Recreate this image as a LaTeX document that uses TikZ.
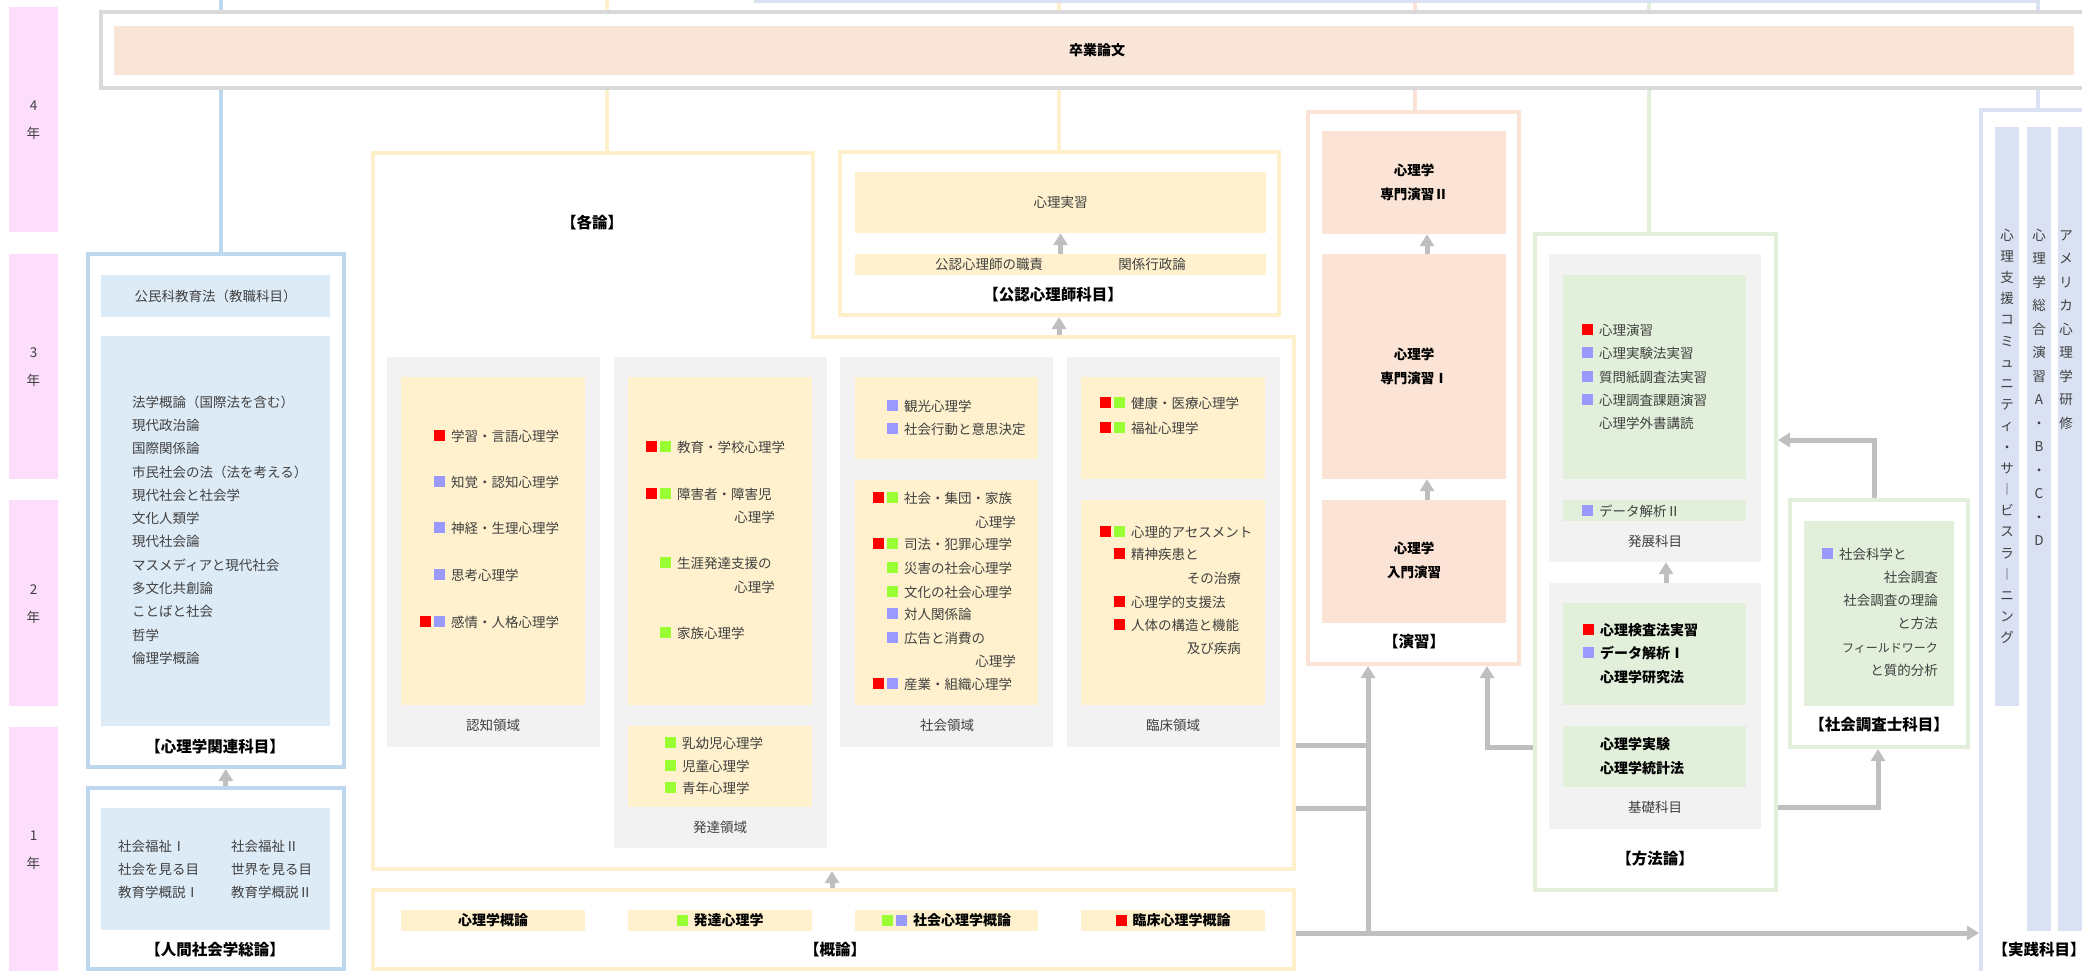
\documentclass[tikz,border=0pt]{standalone}
\usepackage{fontspec}
\setmainfont{Noto Sans CJK JP}
\usepackage{xcolor}
\usetikzlibrary{fit,arrows.meta}

\definecolor{ypink}{RGB}{252,222,252}
\definecolor{tgray}{RGB}{217,217,217}
\definecolor{sfill}{RGB}{249,228,216}
\definecolor{bline}{RGB}{189,215,238}
\definecolor{bfill}{RGB}{221,235,247}
\definecolor{yline}{RGB}{255,240,204}
\definecolor{yfill}{RGB}{255,241,205}
\definecolor{pgray}{RGB}{242,242,242}
\definecolor{pline}{RGB}{251,226,214}
\definecolor{pfill}{RGB}{251,228,214}
\definecolor{gline}{RGB}{226,239,218}
\definecolor{gfill}{RGB}{226,239,218}
\definecolor{lline}{RGB}{217,225,242}
\definecolor{lfill}{RGB}{217,225,242}
\definecolor{agray}{RGB}{191,191,191}
\definecolor{txt}{RGB}{64,64,64}
\definecolor{mred}{RGB}{255,0,0}
\definecolor{mgrn}{RGB}{153,255,51}
\definecolor{mblu}{RGB}{153,153,255}

\newcommand{\fs}{\fontsize{13.5}{16}\selectfont}
\newcommand{\fh}{\fontsize{14}{17}\selectfont\bfseries}
\newcommand{\fk}{\fontsize{15.5}{18}\selectfont\bfseries}
\newcommand{\mk}[1]{\textcolor{#1}{\rule[-0.3pt]{11pt}{11pt}}\hspace{3pt}}
\newcommand{\mR}{\mk{mred}}
\newcommand{\mG}{\mk{mgrn}}
\newcommand{\mB}{\mk{mblu}}

\begin{document}
\begin{tikzpicture}[x=1pt,y=-1pt,
  every node/.style={inner sep=0pt},
  box/.style={draw=#1,line width=4pt,fill=white},
  lbl/.style={text=txt,font=\fs,text height=11.9pt,text depth=1.6pt},
  item/.style={lbl,anchor=west},
  itemr/.style={lbl,anchor=east},
  head/.style={lbl,text=black,font=\fh},
  ttl/.style={text=black,font=\fk,text height=13.6pt,text depth=1.9pt},
  two/.style={text=black,font=\fontsize{13.5}{24}\selectfont\bfseries,align=center},
  vl/.style={draw=#1,line width=4pt},
  arr/.style={draw=agray,line width=5pt,-{Triangle[length=12pt,width=14pt]}},
  link/.style={draw=agray,line width=5pt}]
\useasboundingbox (0,0) rectangle (2082,971);

\foreach \a/\b/\n in {7/232/4,254/479/3,500/706/2,727/971/1}{
  \node[fill=ypink,fit={(9,\a) (58,\b)}] (yr\n) {};
  \node[lbl] (yn\n) at ([yshift=14pt]yr\n.center) {\n};
  \node[lbl] (yk\n) at ([yshift=-14pt]yr\n.center) {年};
}

\node[box=bline,fit={(87.5,254) (344,767)}] (kanren) {};
\node[fill=bfill,fit={(101,275) (330,317)}] (komin) {};
\node[lbl] (kominT) at (komin) {公民科教育法（教職科目）};
\node[fill=bfill,fit={(101,336) (330,726)}] (hogaku) {};
\foreach \t [count=\i from 0] in {法学概論（国際法を含む）,現代政治論,国際関係論,市民社会の法（法を考える）,現代社会と社会学,文化人類学,現代社会論,マスメディアと現代社会,多文化共創論,ことばと社会,哲学,倫理学概論}
  \node[item] (hg\i) at (132,402+23.3*\i) {\t};
\node[ttl] (kanrenT) at (215,747) {【心理学関連科目】};

\node[box=bline,fit={(87.5,788) (344,969)}] (soron) {};
\node[fill=bfill,fit={(101,808) (330,930)}] (soronIn) {};
\foreach \y/\a/\b [count=\i] in {846/社会福祉Ⅰ/社会福祉Ⅱ,869/社会を見る目/世界を見る目,892/教育学概説Ⅰ/教育学概説Ⅱ}{
  \node[item] (sa\i) at (118,\y) {\a};
  \node[item] (sb\i) at (231,\y) {\b};
}
\node[ttl] (soronT) at (215,950) {【人間社会学総論】};
\draw[arr] ([xshift=10pt]soron.north) -- ([xshift=10pt]kanren.south);

\draw[draw=yline,line width=4pt] (372.5,153) -- (813,153) -- (813,337) -- (1294,337) -- (1294,869) -- (372.5,869) -- cycle;
\coordinate (kkStep) at (1059,335);
\coordinate (kkS) at (832,871);
\coordinate (kkE1) at (1296,745);
\coordinate (kkE2) at (1296,808);
\node[ttl] (kakuronT) at (592,223) {【各論】};

\node[fill=pgray,fit={(387,357) (600,747)}] (ninchi) {};
\node[fill=pgray,fit={(614,357) (827,848)}] (hattatsu) {};
\node[fill=pgray,fit={(840,357) (1053,747)}] (shakai) {};
\node[fill=pgray,fit={(1067,357) (1280,747)}] (rinsho) {};
\node[fill=yfill,fit={(401,377) (585,705)}] (ninchiA) {};
\node[fill=yfill,fit={(628,377) (812,705)}] (hattatsuA) {};
\node[fill=yfill,fit={(628,726) (812,807)}] (hattatsuB) {};
\node[fill=yfill,fit={(855,377) (1038,459)}] (shakaiA) {};
\node[fill=yfill,fit={(855,480) (1038,705)}] (shakaiB) {};
\node[fill=yfill,fit={(1081,377) (1265,479)}] (rinshoA) {};
\node[fill=yfill,fit={(1081,500) (1265,705)}] (rinshoB) {};

\foreach \y/\m/\t in {436/\mR/学習・言語心理学,482/\mB/知覚・認知心理学,528/\mB/神経・生理心理学,575/\mB/思考心理学,622/\mR\mB/感情・人格心理学}
  \node[item] (nc\y) at (451,\y) {\llap{\m\hspace{3pt}}\t};
\node[lbl] (ninchiT) at (493,725) {認知領域};

\foreach \y/\m/\t in {447/\mR\mG/教育・学校心理学,494/\mR\mG/障害者・障害児,563/\mG/生涯発達支援の,633/\mG/家族心理学}
  \node[item] (ht\y) at (677,\y) {\llap{\m\hspace{3pt}}\t};
\node[itemr] (ht517) at (775,517) {心理学};
\node[itemr] (ht587) at (775,587) {心理学};
\foreach \y/\t in {743/乳幼児心理学,766/児童心理学,788/青年心理学}
  \node[item] (hb\y) at (682,\y) {\llap{\mG\hspace{3pt}}\t};
\node[lbl] (hattatsuT) at (720,827) {発達領域};

\foreach \y/\m/\t in {406/\mB/観光心理学,429/\mB/社会行動と意思決定,498/\mR\mG/社会・集団・家族,544/\mR\mG/司法・犯罪心理学,568/\mG/災害の社会心理学,592/\mG/文化の社会心理学,614/\mB/対人関係論,638/\mB/広告と消費の,684/\mR\mB/産業・組織心理学}
  \node[item] (sk\y) at (904,\y) {\llap{\m\hspace{3pt}}\t};
\node[itemr] (sk522) at (1016,522) {心理学};
\node[itemr] (sk661) at (1016,661) {心理学};
\node[lbl] (shakaiT) at (947,725) {社会領域};

\foreach \y/\m/\t in {403/\mR\mG/健康・医療心理学,428/\mR\mG/福祉心理学,532/\mR\mG/心理的アセスメント,554/\mR/精神疾患と,602/\mR/心理学的支援法,625/\mR/人体の構造と機能}
  \node[item] (rs\y) at (1131,\y) {\llap{\m\hspace{3pt}}\t};
\node[itemr] (rs578) at (1241,578) {その治療};
\node[itemr] (rs648) at (1241,648) {及び疾病};
\node[lbl] (rinshoT) at (1173,725) {臨床領域};

\node[box=yline,fit={(840,152) (1279,315)}] (konin) {};
\node[fill=yfill,fit={(855,172) (1266,233)}] (jisshu) {};
\node[lbl] (jisshuT) at (jisshu) {心理実習};
\node[fill=yfill,fit={(855,254) (1266,275)}] (shokuseki) {};
\node[lbl] (sk1) at (989,264.5) {公認心理師の職責};
\node[lbl] (sk2) at (1152,264.5) {関係行政論};
\node[ttl] (koninT) at (1053,295) {【公認心理師科目】};
\draw[arr] (shokuseki.north) -- (jisshu.south);
\draw[arr] (kkStep) -- (kkStep |- konin.south);

\node[box=yline,fit={(372.5,890) (1294,969)}] (gairon) {};
\node[fill=yfill,fit={(401,910) (585,931)}] (g1) {};
\node[fill=yfill,fit={(628,910) (812,931)}] (g2) {};
\node[fill=yfill,fit={(855,910) (1038,931)}] (g3) {};
\node[fill=yfill,fit={(1081,910) (1265,931)}] (g4) {};
\node[head] (g1T) at (g1) {心理学概論};
\node[head] (g2T) at (g2) {\mG\hspace{3pt}発達心理学};
\node[head] (g3T) at (g3) {\mG\mB\hspace{3pt}社会心理学概論};
\node[head] (g4T) at (g4) {\mR\hspace{3pt}臨床心理学概論};
\node[ttl] (gaironT) at (835,950) {【概論】};
\draw[arr] (gairon.north -| kkS) -- (kkS);

\node[box=pline,fit={(1307.5,112) (1519,664)}] (enshu) {};
\node[fill=pfill,fit={(1322,131) (1506,234)}] (sen2) {};
\node[fill=pfill,fit={(1322,254) (1506,479)}] (sen1) {};
\node[fill=pfill,fit={(1322,500) (1506,623)}] (nyumon) {};
\node[two] (sen2T) at (1414,182) {心理学\\専門演習Ⅱ};
\node[two] (sen1T) at (1414,366) {心理学\\専門演習Ⅰ};
\node[two] (nyumonT) at (1414,560) {心理学\\入門演習};
\node[ttl] (enshuT) at (1414,642) {【演習】};
\draw[arr] ([xshift=13pt]sen1.north) -- ([xshift=13pt]sen2.south);
\draw[arr] ([xshift=13pt]nyumon.north) -- ([xshift=13pt]sen1.south);

\node[box=gline,fit={(1535,234) (1776,890)}] (hoho) {};
\node[fill=pgray,fit={(1549,254) (1761,562)}] (hatten) {};
\node[fill=gfill,fit={(1563,275) (1746,479)}] (hattenA) {};
\foreach \y/\m/\t in {330/\mR/心理演習,353/\mB/心理実験法実習,377/\mB/質問紙調査法実習,400/\mB/心理調査課題演習,423/{}/心理学外書講読}
  \node[item] (ht\y) at (1599,\y) {\llap{\m\hspace{3pt}}\t};
\node[fill=gfill,fit={(1563,500) (1746,521)}] (hattenB) {};
\node[item] (da2) at (1599,511) {\llap{\mB\hspace{3pt}}データ解析Ⅱ};
\node[lbl] (hattenT) at (1655,541) {発展科目};
\node[fill=pgray,fit={(1549,583) (1761,829)}] (kiso) {};
\node[fill=gfill,fit={(1563,603) (1746,705)}] (kisoA) {};
\foreach \y/\m/\t in {630/\mR/心理検査法実習,653/\mB/データ解析Ⅰ,677/{}/心理学研究法}
  \node[item,text=black,font=\fh] (ks\y) at (1600,\y) {\llap{\m\hspace{3pt}}\t};
\node[fill=gfill,fit={(1563,726) (1746,787)}] (kisoB) {};
\foreach \y/\t in {744/心理学実験,768/心理学統計法}
  \node[item,text=black,font=\fh] (kb\y) at (1600,\y) {\t};
\node[lbl] (kisoT) at (1655,807) {基礎科目};
\node[ttl] (hohoT) at (1655,859) {【方法論】};
\draw[arr] ([xshift=11pt]kiso.north) -- ([xshift=11pt]hatten.south);

\node[box=gline,fit={(1790,500) (1968,747)}] (chosa) {};
\node[fill=gfill,fit={(1804,521) (1954,706)}] (chosaIn) {};
\node[item] (cs1) at (1839,554) {\llap{\mB\hspace{3pt}}社会科学と};
\foreach \y/\t in {577/社会調査,600/社会調査の理論,623/と方法,670/と質的分析}
  \node[itemr] (cs\y) at (1938,\y) {\t};
\node[itemr,font=\fontsize{12}{14}\selectfont] (cs647) at (1938,647) {フィールドワーク};
\node[ttl] (chosaT) at (1879,725) {【社会調査士科目】};

\node[box=lline,fit={(1981,110) (2100,985)}] (jissen) {};
\node[fill=lfill,fit={(1995,127) (2019,706)}] (bar1) {};
\node[fill=lfill,fit={(2027,127) (2051,931)}] (bar2) {};
\node[fill=lfill,fit={(2058,127) (2100,931)}] (bar3) {};
\foreach \c [count=\i from 0] in {心,理,支,援,コ,ミ,ュ,ニ,テ,ィ,・,サ,︱,ビ,ス,ラ,︱,ニ,ン,グ}
  \node[lbl] (va\i) at (2007,235+21.2*\i) {\c};
\foreach \c [count=\i from 0] in {心,理,学,総,合,演,習,A,・,B,・,C,・,D}
  \node[lbl] (vb\i) at (2039,235+23.5*\i) {\c};
\foreach \c [count=\i from 0] in {ア,メ,リ,カ,心,理,学,研,修}
  \node[lbl] (vc\i) at (2066,235+23.5*\i) {\c};
\node[ttl] (jissenT) at (2039,950) {【実践科目】};

\coordinate (c1) at (1874,440);
\coordinate (c2) at (1878,807);
\coordinate (m1) at (1487,747);
\coordinate (k1) at (1368,745);
\coordinate (k2) at (1368,933);
\draw[arr] (chosa.north -| c1) -- (c1) -- (c1 -| hoho.east);
\draw[arr] (hoho.east |- c2) -- (c2) -- (c2 |- chosa.south);
\draw[arr] (hoho.west |- m1) -- (m1) -- (m1 |- enshu.south);
\draw[arr] (kkE1) -- (k1) -- (k1 |- enshu.south);
\draw[link] (kkE2) -- (kkE2 -| k1);
\draw[link] (k2) -- (k1);
\draw[arr] (gairon.east |- k2) -- (jissen.west |- k2);

\coordinate (tB) at (221,0);
\coordinate (tY1) at (607,0);
\coordinate (tY2) at (1059,0);
\coordinate (tP) at (1415,0);
\coordinate (tG) at (1649,0);
\coordinate (tL) at (2038,0);
\coordinate (tL0) at (754,1.5);
\draw[vl=bline] (tB) -- (tB |- kanren.north);
\draw[vl=yline] (tY1) -- (607,151);
\draw[vl=yline] (tY2) -- (tY2 |- konin.north);
\draw[vl=pline] (tP) -- (tP |- enshu.north);
\draw[vl=gline] (tG) -- (tG |- hoho.north);
\draw[vl=lline] (tL) -- (tL |- jissen.north);
\draw[draw=lline,line width=3pt] (tL0) -- (tL0 -| tL);

\node[draw=tgray,line width=4.5pt,fill=white,fit={(101,12) (2100,88)}] (sotsu) {};
\node[fill=sfill,fit={(114,26) (2074,75)}] (sotsuIn) {};
\node[head] (sotsuT) at (1097,50) {卒業論文};
\end{tikzpicture}
\end{document}
